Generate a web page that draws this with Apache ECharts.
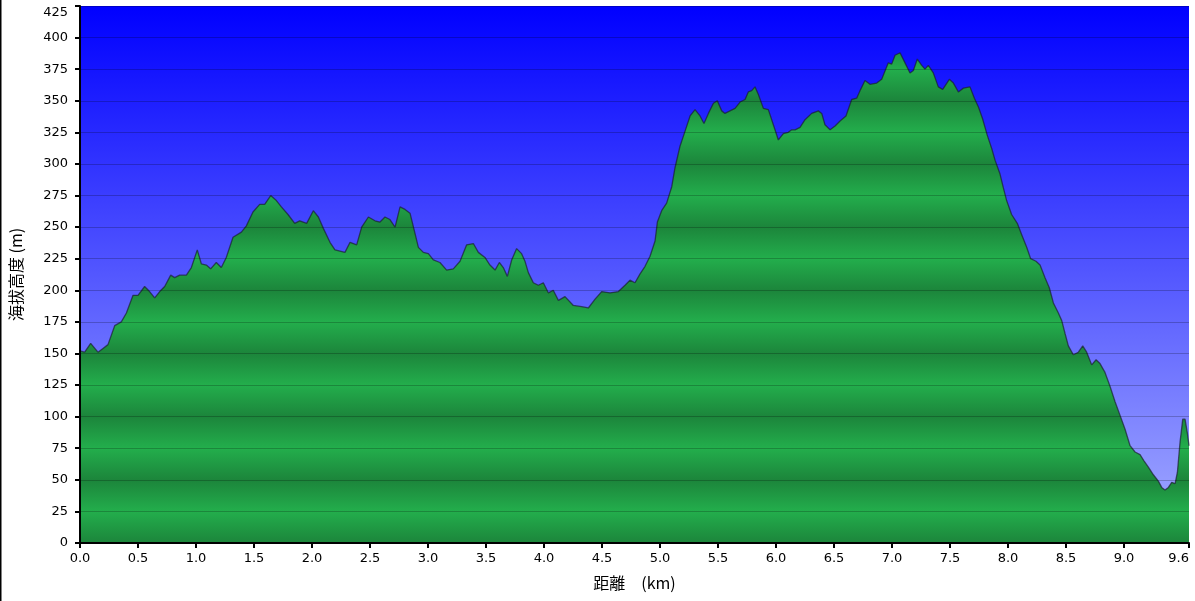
<!DOCTYPE html>
<html>
<head>
<meta charset="utf-8">
<script src="https://cdn.jsdelivr.net/npm/echarts@6/dist/echarts.min.js"></script>
<style>
  html, body { margin: 0; padding: 0; background: #fff; }
  #chart { width: 1195px; height: 601px; }
</style>
</head>
<body>
<div id="chart"></div>
<script>
// distance along the route (km) and elevation (m)
const distKm = [
  0.000, 0.040, 0.092, 0.155, 0.198, 0.241, 0.299, 0.356, 0.400, 0.457,
  0.500, 0.557, 0.600, 0.644, 0.687, 0.730, 0.782, 0.816, 0.859, 0.917,
  0.960, 1.011, 1.046, 1.089, 1.126, 1.175, 1.218, 1.261, 1.319, 1.391,
  1.434, 1.491, 1.549, 1.592, 1.644, 1.693, 1.736, 1.793, 1.851, 1.894,
  1.954, 2.011, 2.055, 2.098, 2.155, 2.198, 2.241, 2.284, 2.328, 2.385,
  2.428, 2.486, 2.543, 2.586, 2.629, 2.672, 2.716, 2.759, 2.802, 2.845,
  2.888, 2.917, 2.960, 3.003, 3.046, 3.103, 3.161, 3.218, 3.276, 3.333,
  3.391, 3.434, 3.491, 3.534, 3.578, 3.615, 3.649, 3.684, 3.721, 3.764,
  3.807, 3.836, 3.865, 3.908, 3.951, 3.994, 4.037, 4.080, 4.124, 4.181,
  4.253, 4.325, 4.382, 4.440, 4.497, 4.569, 4.641, 4.698, 4.741, 4.784,
  4.828, 4.871, 4.914, 4.957, 4.977, 5.014, 5.057, 5.101, 5.129, 5.172,
  5.216, 5.259, 5.302, 5.345, 5.379, 5.417, 5.460, 5.494, 5.532, 5.560,
  5.603, 5.647, 5.690, 5.733, 5.761, 5.790, 5.819, 5.848, 5.891, 5.934,
  5.977, 6.020, 6.063, 6.106, 6.135, 6.164, 6.207, 6.250, 6.307, 6.365,
  6.394, 6.422, 6.466, 6.509, 6.552, 6.603, 6.652, 6.695, 6.724, 6.767,
  6.810, 6.868, 6.911, 6.968, 6.997, 7.026, 7.069, 7.112, 7.155, 7.184,
  7.218, 7.256, 7.284, 7.313, 7.356, 7.399, 7.437, 7.494, 7.529, 7.572,
  7.615, 7.672, 7.710, 7.745, 7.780, 7.820, 7.860, 7.888, 7.931, 7.960,
  7.988, 8.031, 8.080, 8.118, 8.161, 8.195, 8.241, 8.276, 8.319, 8.356,
  8.391, 8.434, 8.463, 8.491, 8.520, 8.563, 8.606, 8.644, 8.678, 8.721,
  8.759, 8.793, 8.836, 8.879, 8.922, 8.966, 9.009, 9.052, 9.095, 9.138,
  9.172, 9.210, 9.253, 9.296, 9.325, 9.353, 9.382, 9.411, 9.440, 9.460,
  9.483, 9.506, 9.526, 9.546, 9.560
];
const elevM = [
  152, 151, 158, 151, 154, 157, 172, 175, 182, 196,
  196, 203, 199, 194, 199, 203, 212, 210, 212, 212,
  218, 232, 221, 220, 217, 222, 218, 226, 242, 246,
  251, 262, 268, 268, 275, 271, 266, 260, 253, 255,
  253, 263, 258, 249, 238, 232, 231, 230, 238, 236,
  250, 258, 255, 254, 258, 256, 250, 266, 264, 261,
  245, 234, 230, 229, 224, 222, 216, 217, 223, 236,
  237, 230, 226, 220, 216, 222, 218, 211, 224, 233,
  229, 223, 214, 206, 204, 206, 198, 200, 192, 195,
  188, 187, 186, 193, 199, 198, 199, 204, 208, 206,
  213, 219, 227, 239, 254, 263, 269, 282, 297, 314,
  326, 338, 343, 338, 332, 340, 348, 350, 342, 340,
  342, 344, 349, 351, 357, 358, 361, 355, 344, 343,
  331, 319, 324, 325, 327, 327, 329, 335, 340, 342,
  340, 331, 327, 330, 334, 338, 351, 352, 358, 366,
  363, 364, 367, 380, 379, 386, 388, 380, 372, 374,
  383, 378, 375, 378, 372, 361, 359, 367, 364, 357,
  360, 361, 352, 345, 336, 323, 312, 303, 292, 281,
  271, 260, 253, 244, 234, 225, 223, 220, 210, 202,
  190, 182, 176, 166, 156, 149, 151, 156, 151, 141,
  145, 142, 135, 124, 112, 101, 90, 77, 72, 70,
  65, 60, 54, 49, 44, 42, 44, 48, 47, 56,
  80, 98, 98, 87, 77
];
const xTicks = [0, 0.5, 1, 1.5, 2, 2.5, 3, 3.5, 4, 4.5, 5, 5.5, 6, 6.5, 7, 7.5, 8, 8.5, 9, 9.56];
const yMax = 425;
const yStep = 25;

const gridTop = 6, gridBottom = 58, chartH = 601;
const plotTop = gridTop, plotBottom = chartH - gridBottom;

// striped green: dark at every 50 m, light at the 25 m in between
const bandStops = [];
for (let v = yMax; v >= 0; v -= yStep) {
  bandStops.push({
    offset: (yMax - v) / yMax,
    color: (v % 50 === 0) ? '#1c853b' : '#23ae4c'
  });
}

const chart = echarts.init(document.getElementById('chart'));

chart.setOption({
  animation: false,
  backgroundColor: '#fff',
  grid: {
    left: 80, right: 6, top: gridTop, bottom: gridBottom,
    show: true, borderWidth: 0,
    backgroundColor: {
      type: 'linear', x: 0, y: 0, x2: 0, y2: 1,
      colorStops: [{ offset: 0, color: '#0000ff' }, { offset: 1, color: '#a6aeff' }]
    }
  },
  graphic: [{
    type: 'rect', shape: { x: 0, y: 0, width: 1.5, height: chartH },
    style: { fill: '#000' }, z: 10
  }],
  xAxis: {
    type: 'value', min: 0, max: 9.56, z: 5,
    name: '距離　(km)', nameLocation: 'middle', nameGap: 32,
    nameTextStyle: { fontFamily: 'Noto Sans CJK JP', fontSize: 16, color: '#000' },
    axisLine: { lineStyle: { color: '#000', width: 2 } },
    axisTick: { show: true, length: 5, lineStyle: { color: '#000', width: 2 }, customValues: xTicks },
    axisLabel: {
      customValues: xTicks, color: '#000', fontFamily: 'DejaVu Sans', fontSize: 13, margin: 9,
      formatter: v => v.toFixed(1), alignMaxLabel: 'right'
    },
    splitLine: { show: false }
  },
  yAxis: {
    type: 'value', min: 0, max: yMax, interval: yStep, z: 5,
    name: '海拔高度 (m)', nameLocation: 'middle', nameGap: 56,
    nameTextStyle: { fontFamily: 'Noto Sans CJK JP', fontSize: 16, color: '#000' },
    axisLine: { show: true, lineStyle: { color: '#000', width: 2 } },
    axisTick: { show: true, length: 5, lineStyle: { color: '#000', width: 2 } },
    axisLabel: {
      color: '#000', fontFamily: 'DejaVu Sans', fontSize: 13, margin: 12,
      verticalAlignMaxLabel: 'top'
    },
    splitLine: { show: true, lineStyle: { color: 'rgba(0,0,0,0.22)', width: 1 } }
  },
  series: [{
    type: 'line',
    data: distKm.map((d, i) => [d, elevM[i]]),
    showSymbol: false,
    smooth: false,
    z: 2,
    lineStyle: { color: 'rgba(25,25,45,0.65)', width: 1.3 },
    areaStyle: {
      opacity: 1,
      color: {
        type: 'linear', global: true,
        x: 0, y: plotTop, x2: 0, y2: plotBottom,
        colorStops: bandStops
      }
    }
  }]
});
</script>
</body>
</html>
